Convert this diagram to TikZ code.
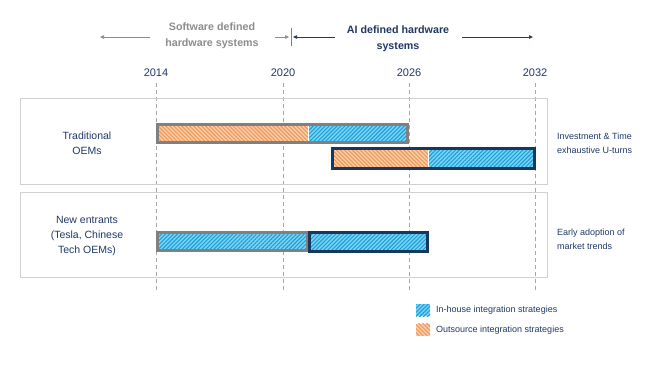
\documentclass[tikz,border=0pt]{standalone}
\usepackage{fontspec}
\setmainfont{Liberation Sans}
\usetikzlibrary{patterns.meta,arrows.meta}
\definecolor{navy}{RGB}{31,56,100}
\definecolor{barnavy}{RGB}{23,55,94}
\definecolor{txtgray}{RGB}{140,140,140}
\definecolor{bargray}{RGB}{128,128,128}
\definecolor{boxgray}{RGB}{208,208,208}
\definecolor{dashgray}{RGB}{166,166,166}
\definecolor{bluefill}{RGB}{125,212,244}
\definecolor{blueline}{RGB}{28,158,216}
\definecolor{orfill}{RGB}{250,205,170}
\definecolor{orline}{RGB}{238,152,88}
\begin{document}
\begin{tikzpicture}[x=1pt,y=-1pt,
  yearlbl/.style={font=\fontsize{11}{13}\selectfont, text=navy, inner sep=1pt},
  rowlbl/.style={font=\fontsize{10.5}{15}\selectfont, text=navy, align=center},
  sidelbl/.style={font=\fontsize{9}{14}\selectfont, text=navy, align=left, anchor=west, inner sep=0pt},
  leglbl/.style={font=\fontsize{9}{11}\selectfont, text=navy, anchor=west, inner sep=0pt},
  dashline/.style={dashgray, line width=0.7pt, dash pattern=on 4pt off 3pt},
  rowbox/.style={draw=boxgray, line width=0.8pt},
  bluehatch/.style={fill=bluefill, postaction={pattern={Lines[angle=45,distance=2.8pt,line width=1.1pt]}, pattern color=blueline}},
  orhatch/.style={fill=orfill, postaction={pattern={Lines[angle=-45,distance=2.8pt,line width=1.1pt]}, pattern color=orline}},
  grayborder/.style={draw=bargray, line width=3pt},
  navyborder/.style={draw=barnavy, line width=3pt},
  sep/.style={white, line width=0.8pt},
  grayarrow/.style={txtgray, line width=0.7pt, -{Triangle[length=4pt,width=3.5pt]}},
  navyarrow/.style={navy, line width=0.7pt, -{Triangle[length=4pt,width=3.5pt]}}
]
\useasboundingbox (0,0) rectangle (650,364);

% top headings
\node[font=\bfseries\fontsize{10.7}{16}\selectfont, text=txtgray, align=center] (sw) at (212,36) {Software defined\\hardware systems};
\node[font=\bfseries\fontsize{10.7}{16}\selectfont, text=navy, align=center] (ai) at (398,39) {AI defined hardware\\systems};
\coordinate (swl) at (100,37);
\coordinate (swr0) at (275,37);
\coordinate (swr) at (289,37);
\coordinate (tickt) at (291,28);
\coordinate (tickb) at (291,46);
\coordinate (ail) at (293,37);
\coordinate (ail0) at (335,37);
\coordinate (air0) at (462,37);
\coordinate (air) at (533,37);
\draw[grayarrow] (150,37) -- (swl);
\draw[grayarrow] (swr0) -- (swr);
\draw[bargray, line width=0.8pt] (tickt) -- (tickb);
\draw[navyarrow] (ail0) -- (ail);
\draw[navyarrow] (air0) -- (air);

% years
\node[yearlbl] (y2014) at (156,73) {2014};
\node[yearlbl] (y2020) at (283,73) {2020};
\node[yearlbl] (y2026) at (409,73) {2026};
\node[yearlbl] (y2032) at (535,73) {2032};
\coordinate (e2014) at (156,290);
\coordinate (e2020) at (283,290);
\coordinate (e2026) at (409,290);
\coordinate (e2032) at (535,290);
\draw[dashline] (156,83) -- (e2014);
\draw[dashline] (283,83) -- (e2020);
\draw[dashline] (409,83) -- (e2026);
\draw[dashline] (535,83) -- (e2032);

% row boxes
\node[rowbox, minimum width=527pt, minimum height=86pt, inner sep=0pt] (row1) at (283.5,141) {};
\node[rowbox, minimum width=527pt, minimum height=85pt, inner sep=0pt] (row2) at (283.5,234.5) {};

% row labels
\node[rowlbl] (trad) at (87,143) {Traditional\\OEMs};
\node[rowlbl] (newent) at (87,236) {New entrants\\(Tesla, Chinese\\Tech OEMs)};
\node[sidelbl] (inv) at (557,143) {Investment \& Time\\exhaustive U-turns};
\node[sidelbl] (early) at (557,239) {Early adoption of\\market trends};

% Traditional OEMs bar 1 (gray)
\path[orhatch] (157.5,124.5) rectangle (308,142.5);
\path[bluehatch] (308,124.5) rectangle (407.5,142.5);
\draw[sep] (308,125) -- (308,142);
\draw[grayborder] (157.5,124.5) rectangle (407.5,142.5);

% Traditional OEMs bar 2 (navy)
\path[orhatch] (332.5,148.5) rectangle (428,168.5);
\path[bluehatch] (428,148.5) rectangle (534.5,168.5);
\draw[sep] (428,149) -- (428,168);
\draw[navyborder] (332.5,148.5) rectangle (534.5,168.5);

% New entrants bars
\path[bluehatch] (157.5,232.5) rectangle (307,250.5);
\draw[grayborder] (157.5,232.5) rectangle (307,250.5);
\path[bluehatch] (309.5,232) rectangle (427.5,251);
\draw[navyborder] (309.5,232) rectangle (427.5,251);

% legend
\path[bluehatch] (416,304) rectangle (430,316);
\node[leglbl] (lin) at (436,310.5) {In-house integration strategies};
\path[orhatch] (416,323.5) rectangle (430,335.5);
\node[leglbl] (lout) at (436,330) {Outsource integration strategies};
\end{tikzpicture}
\end{document}
